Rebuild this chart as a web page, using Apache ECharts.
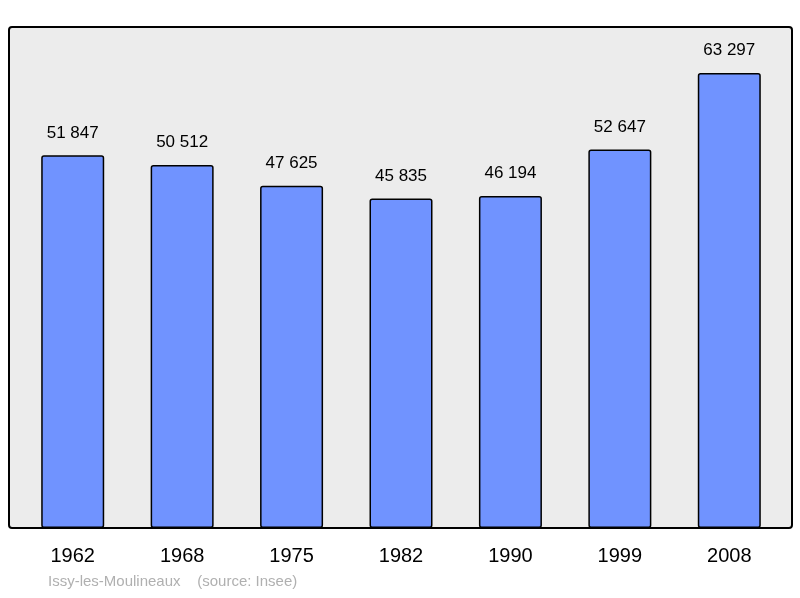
<!DOCTYPE html>
<html>
<head>
<meta charset="utf-8">
<script src="https://cdn.jsdelivr.net/npm/echarts@6/dist/echarts.min.js"></script>
<style>html,body{margin:0;padding:0;background:#fff}#c{width:800px;height:598px}</style>
</head>
<body>
<div id="c"></div>
<script>
var years = ['1962', '1968', '1975', '1982', '1990', '1999', '2008'];
var population = [51847, 50512, 47625, 45835, 46194, 52647, 63297];

function fmt(v) {
    return String(v).replace(/\B(?=(\d{3})+(?!\d))/g, ' ');
}

var chart = echarts.init(document.getElementById('c'));
chart.setOption({
    animation: false,
    backgroundColor: '#fff',
    graphic: [
        {
            type: 'rect',
            z: -10,
            shape: { x: 9, y: 27, width: 783, height: 501, r: 3 },
            style: { fill: '#ececec', stroke: '#000', lineWidth: 2 }
        },
        {
            type: 'text',
            left: 48,
            top: 574,
            style: {
                text: 'Issy-les-Moulineaux    (source: Insee)',
                fill: '#b0b0b0',
                font: '15px "Liberation Sans", Arial, sans-serif'
            }
        }
    ],
    grid: { left: 18, right: 16, top: 27, bottom: 70 },
    xAxis: {
        type: 'category',
        data: years,
        axisLine: { show: false },
        axisTick: { show: false },
        axisLabel: {
            margin: 18,
            fontSize: 20,
            color: '#000',
            fontFamily: '"Liberation Sans", Arial, sans-serif'
        }
    },
    yAxis: {
        type: 'value',
        min: 0,
        max: 69700,
        show: false,
        splitLine: { show: false }
    },
    series: [{
        type: 'bar',
        data: population,
        barWidth: 63,
        itemStyle: { color: '#7093ff', borderColor: '#000', borderWidth: 1.5, borderRadius: 2 },
        label: {
            show: true,
            position: 'top',
            distance: 14,
            fontSize: 17,
            color: '#000',
            fontFamily: '"Liberation Sans", Arial, sans-serif',
            formatter: function (p) { return fmt(p.value); }
        }
    }]
});
</script>
</body>
</html>
